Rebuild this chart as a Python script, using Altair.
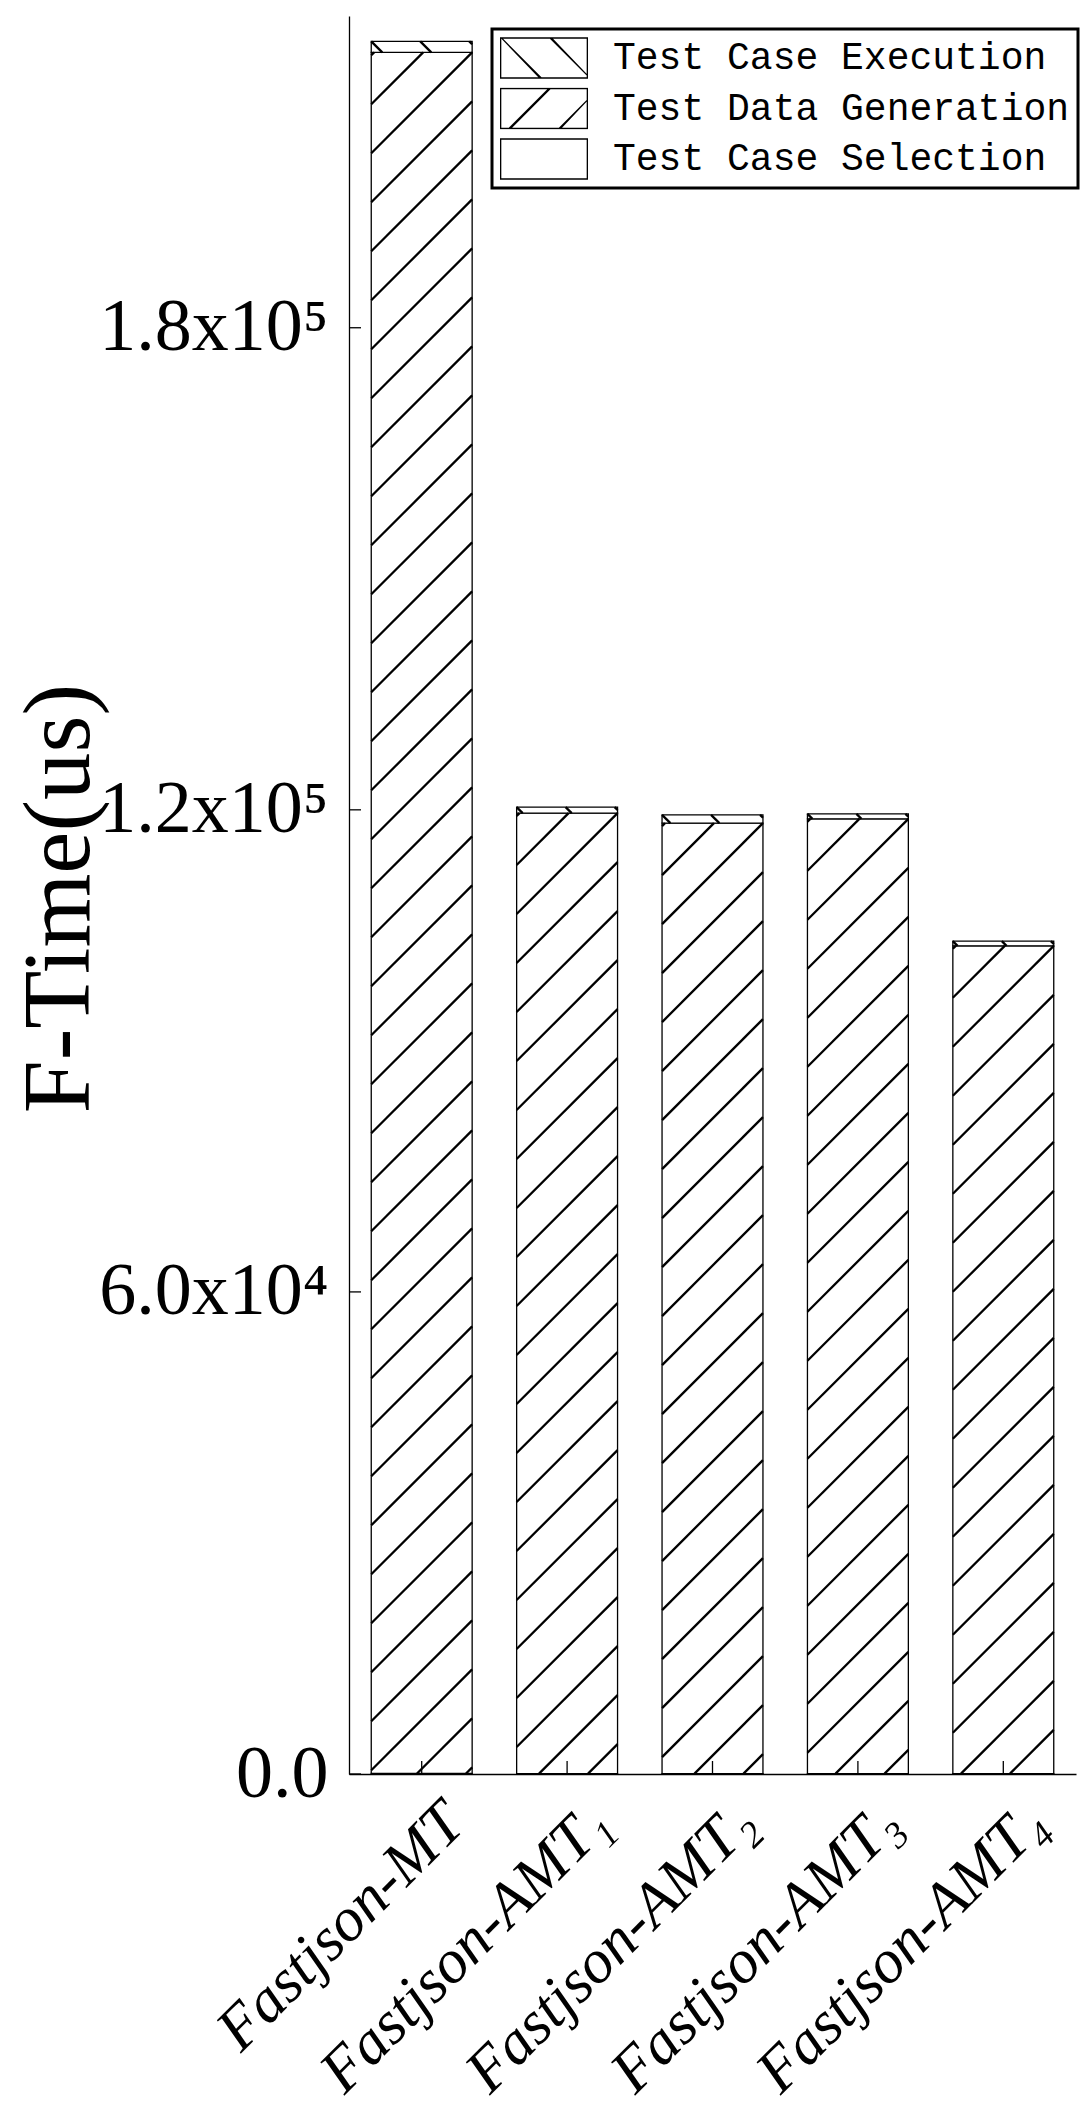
import json
import numpy as np
import pandas as pd
import altair as alt

# ---------------- data ----------------
categories = ["Fastjson-MT", "Fastjson-AMT\u2081", "Fastjson-AMT\u2082",
              "Fastjson-AMT\u2083", "Fastjson-AMT\u2084"]
series = ["Test Case Execution", "Test Data Generation", "Test Case Selection"]
selection = [60, 50, 50, 50, 50]
generation = [214210, 119540, 118290, 118830, 103020]
execution = [1370, 750, 1040, 620, 590]
y_ticks = [0, 60000, 120000, 180000]
y_tick_labels = ["0.0", "6.0x10\u2074", "1.2x10\u2075", "1.8x10\u2075"]

# ---------------- layout / style ----------------
W, H = 727, 1758
X_MIN, X_MAX = -0.5, 4.5
Y_MAX = 218800
HALF = 0.347          # half bar width in category units
HATCH_STEP = 49.0     # hatch spacing in pixels


def px(u):
    return (u - X_MIN) / (X_MAX - X_MIN) * W


def py(v):
    return H - v / Y_MAX * H


def ux(p):
    return X_MIN + p / W * (X_MAX - X_MIN)


def vy(p):
    return (H - p) / H * Y_MAX


def hatch(x0, x1, yt, yb, kind):
    segs = []
    if kind == "/":
        c0 = x1 + yt
        lo, hi = x0 + yt, x1 + yb
        k = int(np.floor((lo - c0) / HATCH_STEP)) - 1
        while True:
            c = c0 + k * HATCH_STEP
            if c > hi:
                break
            xa, xb = max(x0, c - yb), min(x1, c - yt)
            if xb - xa > 0.5:
                segs.append((xa, c - xa, xb, c - xb))
            k += 1
    else:
        c0 = x0 - yt
        lo, hi = x0 - yb, x1 - yt
        k = int(np.floor((lo - c0) / HATCH_STEP)) - 1
        while True:
            c = c0 + k * HATCH_STEP
            if c > hi:
                break
            xa, xb = max(x0, c + yt), min(x1, c + yb)
            if xb - xa > 0.5:
                segs.append((xa, xa - c, xb, xb - c))
            k += 1
    return segs


bar_rows, hatch_rows = [], []
for i, cat in enumerate(categories):
    s, g, e = selection[i], generation[i], execution[i]
    parts = [(series[2], 0, s, None), (series[1], s, s + g, "/"),
             (series[0], s + g, s + g + e, "\\")]
    for name, a, b, kind in parts:
        bar_rows.append({"idx": i, "x0": i - HALF, "x1": i + HALF,
                         "series": name, "start": a, "end": b})
        if kind:
            for (xa, ya, xb, yb) in hatch(px(i - HALF), px(i + HALF), py(b), py(a), kind):
                hatch_rows.append({"hx1": ux(xa), "hy1": vy(ya),
                                   "hx2": ux(xb), "hy2": vy(yb)})

bars_df = pd.DataFrame(bar_rows)
hatch_df = pd.DataFrame(hatch_rows)
xt_df = pd.DataFrame({"idx": list(range(len(categories)))})
yt_df = pd.DataFrame({"tick": y_ticks})
leg_df = pd.DataFrame({"series": series, "idx": [0, 1, 2], "off": [-100000] * 3})


# ---------------- legend symbols (custom paths, unit square -1..1) ----------------
def area(pts):
    a = 0
    for j in range(len(pts)):
        x1, y1 = pts[j]
        x2, y2 = pts[(j + 1) % len(pts)]
        a += x1 * y2 - x2 * y1
    return a / 2


def poly(pts, sign):
    if np.sign(area(pts)) != sign:
        pts = pts[::-1]
    return "M" + "L".join(f"{x:.3f},{y:.3f}" for x, y in pts) + "Z"


HH = 0.47
outer = [(-1, -HH), (1, -HH), (1, HH), (-1, HH)]
inner = [(-0.97, -HH + 0.03), (-0.97, HH - 0.03), (0.97, HH - 0.03), (0.97, -HH + 0.03)]
osign = np.sign(area(outer))
frame = poly(outer, osign) + poly(inner, -osign)
w = 0.037


def stroke_poly(xa, ya, xb, yb):
    pts = [(max(-1, xa - w), ya), (max(-1, xb - w), yb), (min(1, xb + w), yb), (min(1, xa + w), ya)]
    return poly(pts, osign)


sym_exec = frame + stroke_poly(-1, -HH, -1 + 2 * HH, HH) + stroke_poly(0.136, -HH, 1, -HH + (1 - 0.136))
sym_gen = frame + stroke_poly(-0.795, HH, -0.795 + 2 * HH, -HH) + stroke_poly(0.341, HH, 1, HH - (1 - 0.341))
sym_sel = frame
paths = [sym_exec, sym_gen, sym_sel]

# ---------------- scales / axes ----------------
xscale = alt.Scale(domain=[X_MIN, X_MAX], nice=False, zero=False)
yscale = alt.Scale(domain=[0, Y_MAX], nice=False, zero=False)

x_label_expr = json.dumps(categories, ensure_ascii=False) + "[round(datum.value)]"
y_label_expr = ""
for t, lab in zip(y_ticks, y_tick_labels):
    y_label_expr += f"datum.value == {t} ? '{lab}' : "
y_label_expr += "''"

x_axis = alt.Axis(values=list(range(len(categories))), labelExpr=x_label_expr, title=None,
                  ticks=False, tickSize=0, grid=False, domainColor="black", domainWidth=1.3,
                  labelAngle=-45, labelAlign="right", labelBaseline="middle",
                  labelFont="Liberation Serif", labelFontStyle="italic", labelFontSize=62,
                  labelColor="black", labelPadding=39, labelOffset=32,
                  labelOverlap=False, labelFlush=False, labelLimit=2000)
y_axis = alt.Axis(values=y_ticks, labelExpr=y_label_expr, title="F-Time(us)",
                  ticks=False, tickSize=0, grid=False, domainColor="black", domainWidth=1.3,
                  labelFont="Liberation Serif", labelFontSize=74, labelColor="black",
                  labelPadding=21, labelOverlap=False, labelFlush=False, labelLimit=2000,
                  titleFont="Liberation Serif", titleFontSize=95, titleFontWeight="normal",
                  titleColor="black", titleAngle=270, titleX=-261, titleY=882,
                  titleAlign="center", titleBaseline="alphabetic", titleLimit=3000)

rect_layer = alt.Chart(bars_df).mark_rect(fill="white", stroke="black", strokeWidth=1.3).encode(
    x=alt.X("x0:Q", scale=xscale, axis=x_axis), x2="x1:Q",
    y=alt.Y("start:Q", scale=yscale, axis=y_axis), y2="end:Q")

hatch_layer = alt.Chart(hatch_df).mark_rule(color="black", strokeWidth=2.3).encode(
    x=alt.X("hx1:Q", scale=xscale, axis=x_axis), x2="hx2:Q",
    y=alt.Y("hy1:Q", scale=yscale, axis=y_axis), y2="hy2:Q")

xtick_layer = alt.Chart(xt_df).mark_rule(color="black", strokeWidth=1.3).encode(
    x=alt.X("idx:Q", scale=xscale, axis=x_axis),
    y=alt.value(H), y2=alt.value(H - 13))

ytick_layer = alt.Chart(yt_df).mark_rule(color="black", strokeWidth=1.3).encode(
    y=alt.Y("tick:Q", scale=yscale, axis=y_axis),
    x=alt.value(0), x2=alt.value(12))

legend_layer = alt.Chart(leg_df).mark_point(filled=True, fill="black", strokeWidth=0,
                                            clip=True, size=7744).encode(
    x=alt.X("idx:Q", scale=xscale, axis=x_axis),
    y=alt.Y("off:Q", scale=yscale, axis=y_axis),
    shape=alt.Shape("series:N", scale=alt.Scale(domain=series, range=paths),
                    legend=alt.Legend(title=None, orient="none", legendX=143, legendY=13,
                                      direction="vertical", symbolSize=7744,
                                      symbolFillColor="black", symbolStrokeColor="black",
                                      symbolStrokeWidth=0, symbolOpacity=1, clipHeight=42,
                                      rowPadding=8.5, labelFont="Liberation Mono",
                                      labelFontSize=38, labelColor="black", labelOffset=25,
                                      padding=8, strokeColor="black", fillColor="white",
                                      cornerRadius=0, labelLimit=0, symbolOffset=0)))

chart = alt.layer(rect_layer, hatch_layer, xtick_layer, ytick_layer, legend_layer).properties(
    width=W, height=H,
    padding={"left": 349, "top": 16, "right": 8, "bottom": 345},
    autosize=alt.AutoSizeParams(type="none"),
).configure_view(stroke=None).configure_legend(strokeWidth=3)

chart.save("out.html", embed_options={"renderer": "svg", "actions": False})
